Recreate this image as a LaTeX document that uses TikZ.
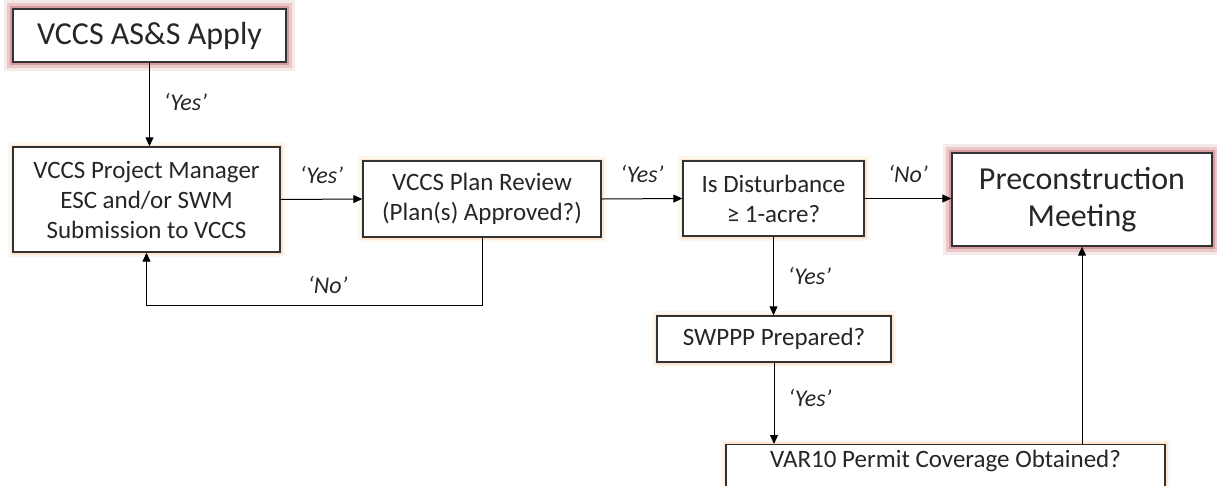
\documentclass[tikz,border=0pt]{standalone}
\usepackage{fontspec}
\setmainfont{Carlito}
\usetikzlibrary{arrows.meta}
\definecolor{glowred}{RGB}{180,70,75}
\definecolor{gloworange}{RGB}{247,150,70}
\definecolor{boxline}{RGB}{50,50,50}

\begin{document}
\begin{tikzpicture}[x=1pt,y=-1pt,
    box/.style={draw=boxline,line width=1.4pt,fill=white,align=center,
        inner sep=0pt,text=black!85,font=\fontsize{25}{30}\selectfont},
    bigbox/.style={box,font=\fontsize{32}{37}\selectfont,
        preaction={draw=glowred,line width=18pt,opacity=.12},
        preaction={draw=glowred,line width=12pt,opacity=.2},
        preaction={draw=glowred,line width=6pt,opacity=.35}},
    smallbox/.style={box,
        preaction={draw=gloworange,line width=10pt,opacity=.08},
        preaction={draw=gloworange,line width=5pt,opacity=.18}},
    arr/.style={line width=1pt,-{Triangle[length=9pt,width=8pt]}},
    lbl/.style={text=black!85,font=\fontsize{24}{28}\selectfont\itshape}]

    \useasboundingbox (0,0) rectangle (1217,485);

    \node[bigbox,minimum width=273pt,minimum height=53pt] (apply) at (149.5,35.5) {VCCS AS\&S Apply};
    \node[smallbox,minimum width=267pt,minimum height=105pt] (manager) at (146.5,199.5)
        {VCCS Project Manager\\ESC and/or SWM\\Submission to VCCS};
    \node[smallbox,minimum width=238pt,minimum height=76pt] (review) at (482,199)
        {VCCS Plan Review\\(Plan(s) Approved?)};
    \node[smallbox,minimum width=181pt,minimum height=75pt] (disturb) at (773.5,198.5)
        {Is Disturbance\\≥ 1-acre?};
    \node[bigbox,minimum width=260pt,minimum height=93pt] (precon) at (1082,199.5)
        {Preconstruction\\Meeting};
    \node[smallbox,minimum width=234pt,minimum height=46pt] (swppp) at (774,339) {SWPPP Prepared?};
    \node[smallbox,anchor=north,minimum width=439pt,text depth=20pt,inner ysep=5.5pt] (permit)
        at (945.5,444) {VAR10 Permit Coverage Obtained?};

    \draw[arr] (apply.south) -- (apply.south |- manager.north)
        node[lbl,midway,right=10.5pt,yshift=3pt] (yesA) {‘Yes’};
    \draw[arr] (manager.east) -- (review.west) node[lbl,midway,above=12pt] (yesB) {‘Yes’};
    \draw[arr] (review.east) -- (disturb.west) node[lbl,midway,above=12pt] (yesC) {‘Yes’};
    \draw[arr] (disturb.east) -- (disturb.east -| precon.west) node[lbl,midway,above=12pt] (noA) {‘No’};
    \draw[arr] (disturb.south) -- (disturb.south |- swppp.north)
        node[lbl,midway,right=10.5pt] (yesD) {‘Yes’};
    \draw[arr] (swppp.south) -- (swppp.south |- permit.north)
        node[lbl,midway,right=10.5pt,yshift=5pt] (yesE) {‘Yes’};
    \draw[arr] (permit.north -| precon.south) -- (precon.south);
    \draw[arr] (review.south) -- ++(0,68) -| node[lbl,pos=.23,above=8pt] (noB) {‘No’} (manager.south);
\end{tikzpicture}
\end{document}
